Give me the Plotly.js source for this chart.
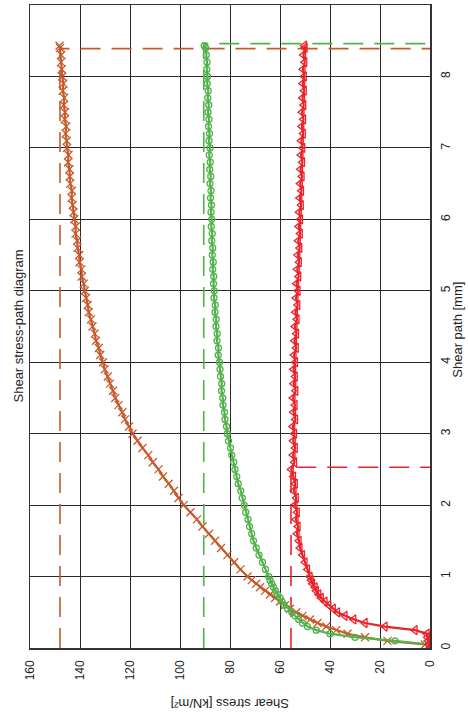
<!DOCTYPE html>
<html>
<head>
<meta charset="utf-8">
<script src="https://cdn.plot.ly/plotly-3.0.1.min.js"></script>
<style>html,body{margin:0;padding:0;background:#fff;}#chart{width:468px;height:728px;}</style>
</head>
<body>
<div id="chart"></div>
<script>
// Shear path [mm] (shared by all three series)
const shearPath = [0,0.05,0.1,0.15,0.2,0.25,0.3,0.35,0.4,0.45,0.5,0.55,0.6,0.65,0.7,0.75,0.8,0.85,0.9,0.95,1.0,
  1.1,1.2,1.3,1.4,1.5,1.6,1.7,1.8,1.9,2.0,
  2.1,2.2,2.3,2.4,2.5,2.6,2.7,2.8,2.9,3.0,
  3.1,3.2,3.3,3.4,3.5,3.6,3.7,3.8,3.9,4.0,
  4.1,4.2,4.3,4.4,4.5,4.6,4.7,4.8,4.9,5.0,
  5.1,5.2,5.3,5.4,5.5,5.6,5.7,5.8,5.9,6.0,
  6.1,6.2,6.3,6.4,6.5,6.6,6.7,6.8,6.9,7.0,
  7.1,7.2,7.3,7.4,7.5,7.6,7.7,7.8,7.9,8.0,
  8.1,8.2,8.3,8.4,8.43];

// Shear stress [kN/m²]
const stressOrange = [0,2,17,26,33,37.5,41.5,45,48,51,53.5,56,58,60,62,64,66,68,69.5,71.3,73,
  75.8,78.3,81,83.6,86,88.4,91,93.2,95.8,98.5,
  100.6,102.4,104.5,106.8,108.6,110.9,112.7,115,117,119,
  120.4,122,123.1,124.6,125.9,126.8,128,128.9,130.1,130.8,
  131.9,132.5,133.6,134.1,135,135.6,136.5,136.9,137.6,138.1,
  138.5,139.3,139.4,140.2,140.3,141,141.1,141.8,141.7,142.3,
  142.6,142.9,143.4,143.2,143.9,144.1,144.2,144.8,144.6,145.2,
  145.3,145.8,145.5,146.1,146,146.5,146.3,146.9,146.6,147.1,
  147.3,147.6,147.5,148,148.2];

const stressGreen = [0,0.5,14,30,40,45.5,49,51,52.5,54,55.3,57,58.3,59.2,60,61,61.8,62.6,63.3,64,64.5,
  65.8,67,68.4,69.5,70.6,71.3,72.2,72.8,73.7,74.3,
  75.1,75.7,76.7,77.3,78,78.5,79.3,79.8,80.6,81.1,
  81.4,82,82.2,82.8,82.9,83.4,83.3,83.8,84,84.2,
  84.7,84.6,85.2,85.1,85.6,85.5,86,85.9,86.4,86.3,
  86.6,86.5,86.9,86.7,87.1,86.9,87.3,87.1,87.5,87.3,
  87.6,87.4,87.8,87.6,88,87.7,88.1,87.9,88.3,88,
  88.4,88.2,88.6,88.4,88.8,88.5,88.9,88.7,89.1,89,
  89.3,89.2,89.5,89.7,90.3];

const stressRed = [0,0.4,0.8,1,1.2,6,18,26,30.5,34,37,38.7,40.5,42,43.5,44.5,45.5,46,47,47.5,48,
  49,50,51,52,52.4,53.2,52.8,53.6,53.1,54,
  53.5,54.4,53.9,54.6,55.5,54.2,54.8,53.9,54.7,54.2,
  54.9,53.8,54.6,54,54.8,53.7,54.5,53.9,54.6,53.8,
  54.4,53.5,54.2,53.4,54,53.2,53.8,52.9,53.6,52.8,
  53.4,52.5,53.1,52.3,52.9,52.1,52.7,51.9,52.5,51.8,
  52.3,51.5,52.1,51.4,51.9,51.2,51.8,51,51.6,50.9,
  51.5,50.7,51.3,50.6,51.2,50.5,51,50.3,50.9,50.3,
  50.8,50.1,50.6,50,50.2];

// Peak values (stress, path) marked by dashed lines
const peakOrange = [148, 8.39];
const peakGreen = [90.5, 8.46];
const peakRed = [55.6, 2.53];

const stressTicks = [0,20,40,60,80,100,120,140,160];
const pathTicks = [0,1,2,3,4,5,6,7,8,9];

const cOrange = '#C9592B', cGreen = '#52B24B', cRed = '#EC2229';
const FONT = 'Liberation Sans, Arial, sans-serif';

function peakLine(pk, color) {
  return {x:[pk[0], pk[0], 0], y:[0, pk[1], pk[1]], mode:'lines', showlegend:false, hoverinfo:'skip',
    line:{color:color, width:1.6, dash:'20px,11px'}};
}
function series(vals, color, sym, size) {
  return {x: vals, y: shearPath, mode:'lines+markers', showlegend:false,
    line:{color:color, width:2.2},
    marker:{symbol:sym, size:size, color:color, line:{color:color, width:1.3}}};
}

const data = [
  peakLine(peakOrange, cOrange), peakLine(peakGreen, cGreen), peakLine(peakRed, cRed),
  series(stressOrange, cOrange, 'x-thin-open', 8),
  series(stressGreen, cGreen, 'circle-open', 6),
  series(stressRed, cRed, 'triangle-left-open', 8)
];

const layout = {
  width:468, height:728,
  margin:{l:30, r:38, t:5, b:80},
  paper_bgcolor:'#fff', plot_bgcolor:'#fff',
  font:{family:FONT, size:12, color:'#222'},
  xaxis:{range:[160,0], tickvals:stressTicks, ticktext:stressTicks.map(String), tickangle:-90,
    showgrid:true, gridcolor:'#2a2a2a', gridwidth:1, zeroline:false,
    showline:true, mirror:true, linecolor:'#333', linewidth:1.5, ticks:'', ticklabelstandoff:6,
    tickfont:{family:FONT, size:12, color:'#222'}},
  yaxis:{range:[0,9], side:'right', tickvals:pathTicks, ticktext:pathTicks.map(String), tickangle:-90,
    showgrid:true, gridcolor:'#2a2a2a', gridwidth:1, zeroline:false,
    showline:true, mirror:true, linecolor:'#333', linewidth:1.5, ticks:'', ticklabelstandoff:4,
    tickfont:{family:FONT, size:12, color:'#222'}},
  annotations:[
    {text:'Shear stress-path diagram', xref:'paper', yref:'paper', x:-0.03, y:0.5, textangle:-90,
      showarrow:false, xanchor:'center', yanchor:'middle', font:{family:FONT, size:13, color:'#222'}},
    {text:'Shear path [mm]', xref:'paper', yref:'paper', x:1.07, y:0.495, textangle:-90,
      showarrow:false, xanchor:'center', yanchor:'middle', font:{family:FONT, size:13, color:'#222'}},
    {text:'Shear stress [kN/m²]', xref:'paper', yref:'paper', x:0.5, y:-0.0855, textangle:180,
      showarrow:false, xanchor:'center', yanchor:'middle', font:{family:FONT, size:13, color:'#222'}}
  ]
};

Plotly.newPlot('chart', data, layout, {staticPlot:true, displayModeBar:false});
</script>
</body>
</html>
